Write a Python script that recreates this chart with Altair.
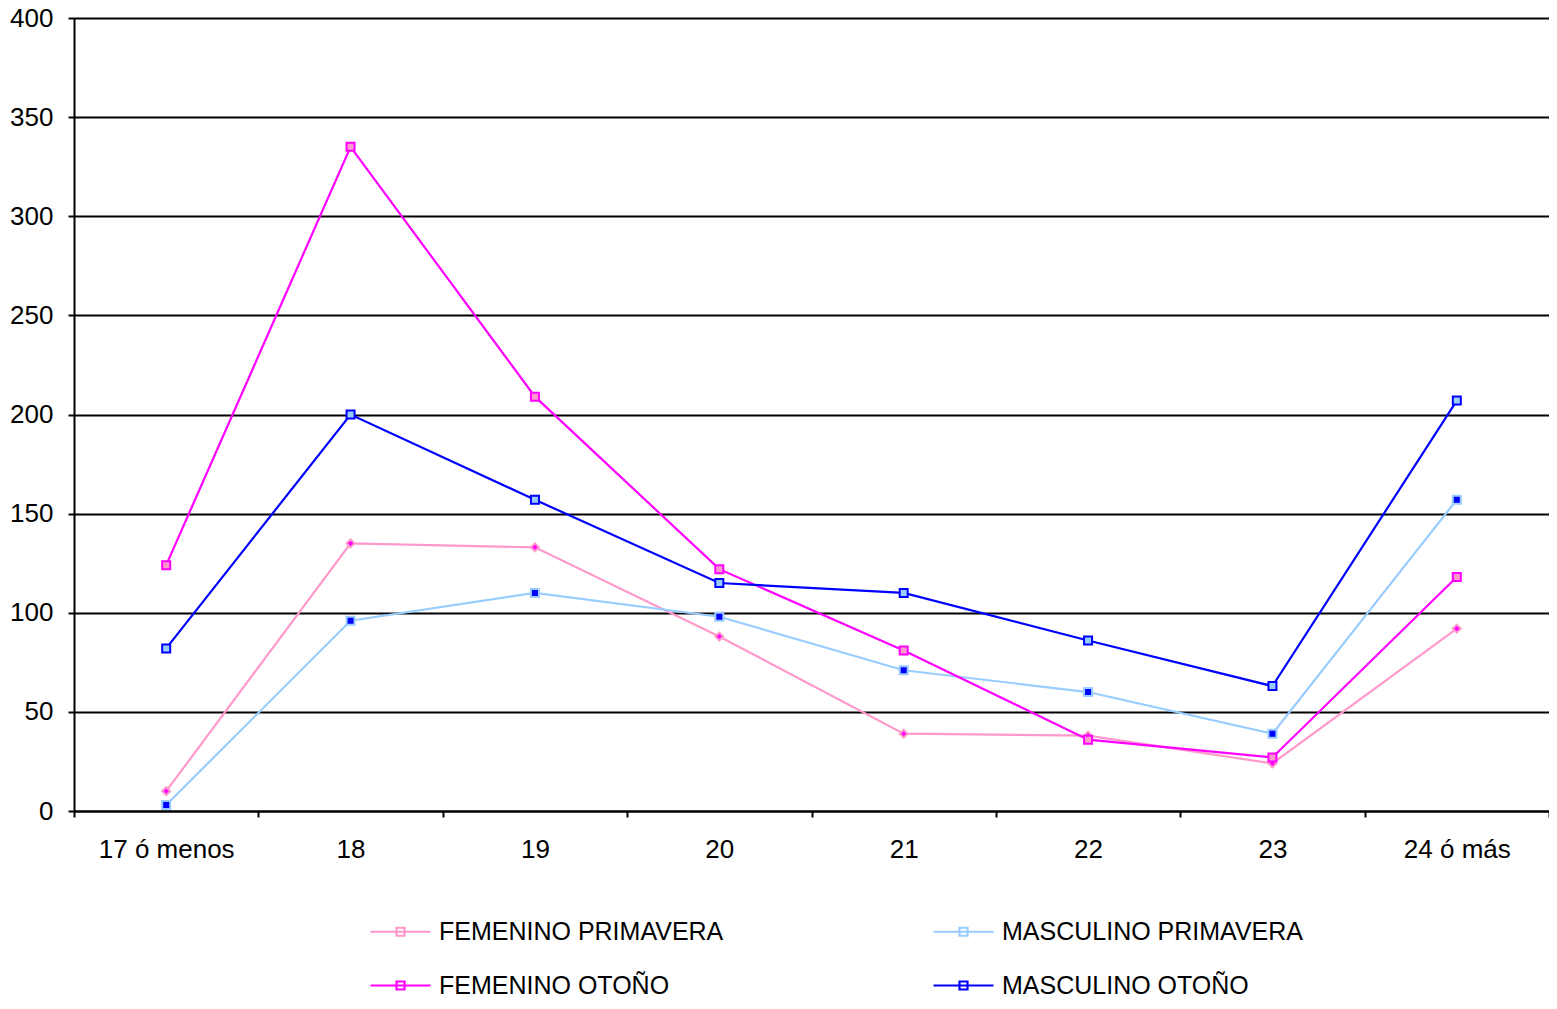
import altair as alt
import pandas as pd

categories = ["17 ó menos", "18", "19", "20", "21", "22", "23", "24 ó más"]
series_names = ["FEMENINO PRIMAVERA", "MASCULINO PRIMAVERA", "FEMENINO OTOÑO", "MASCULINO OTOÑO"]
fem_primavera = [10, 135, 133, 88, 39, 38, 24, 92]
masc_primavera = [3, 96, 110, 98, 71, 60, 39, 157]
fem_otono = [124, 335, 209, 122, 81, 36, 27, 118]
masc_otono = [82, 200, 157, 115, 110, 86, 63, 207]

line_colors = ["#FF99CC", "#99CCFF", "#FF00FF", "#0000FF"]
marker_fills = ["#FF00FF", "#0000FF", "#FF99CC", "#99CCFF"]
marker_shapes = ["diamond", "square", "square", "square"]

# legend order (column-major fill gives rows: F PRIM | M PRIM, F OTOÑO | M OTOÑO)
legend_order = [series_names[0], series_names[2], series_names[1], series_names[3]]
legend_colors = [line_colors[0], line_colors[2], line_colors[1], line_colors[3]]

rows = []
for name, vals in zip(series_names, [fem_primavera, masc_primavera, fem_otono, masc_otono]):
    for c, v in zip(categories, vals):
        rows.append({"edad": c, "valor": v, "serie": name})
df = pd.DataFrame(rows)

font = "Liberation Sans"

x_enc = alt.X(
    "edad:N",
    sort=categories,
    scale=alt.Scale(paddingInner=0, paddingOuter=0),
    axis=alt.Axis(
        title=None, labelAngle=0, tickBand="extent", tickSize=6, labelPadding=19,
        domainColor="black", domainWidth=2, tickColor="black", tickWidth=2,
        labelFont=font, labelFontSize=26, labelColor="black", grid=False,
    ),
)
y_enc = alt.Y(
    "valor:Q",
    scale=alt.Scale(domain=[0, 400], nice=False),
    axis=alt.Axis(
        title=None, values=list(range(0, 401, 50)), tickSize=6, labelPadding=15,
        domainColor="black", domainWidth=2, tickColor="black", tickWidth=2,
        grid=True, gridColor="black", gridWidth=2, gridOpacity=1,
        labelFont=font, labelFontSize=26, labelColor="black",
    ),
)

lines = alt.Chart(df).mark_line(strokeWidth=2.2).encode(
    x=x_enc,
    y=y_enc,
    color=alt.Color(
        "serie:N",
        scale=alt.Scale(domain=legend_order, range=legend_colors),
        legend=alt.Legend(
            title=None, orient="none", legendX=314, legendY=901, columns=2,
            columnPadding=205, rowPadding=28,
            symbolType="M-3,0H3M-0.4,-0.4H0.4V0.4H-0.4Z",
            symbolSize=400, symbolStrokeWidth=2.2, symbolFillColor="#ffffff",
            labelFont=font, labelFontSize=25, labelColor="black", labelOffset=26,
            labelLimit=500,
        ),
    ),
    detail="serie:N",
)

points = alt.Chart(df).mark_point(size=64, strokeWidth=2, opacity=1, filled=False).encode(
    x=alt.X("edad:N", sort=categories),
    y="valor:Q",
    stroke=alt.Stroke("serie:N", scale=alt.Scale(domain=series_names, range=line_colors), legend=None),
    fill=alt.Fill("serie:N", scale=alt.Scale(domain=series_names, range=marker_fills), legend=None),
    shape=alt.Shape("serie:N", scale=alt.Scale(domain=series_names, range=marker_shapes), legend=None),
)

chart = alt.layer(lines, points).resolve_scale(
    color="independent", stroke="independent", fill="independent", shape="independent"
).properties(
    width=1475,
    height=793,
    autosize=alt.AutoSizeParams(type="none"),
    padding={"left": 66, "top": 10, "right": 0, "bottom": 188},
).configure_view(stroke=None).configure(background="white")

chart.save("out.html", embed_options={"renderer": "svg", "actions": False})
